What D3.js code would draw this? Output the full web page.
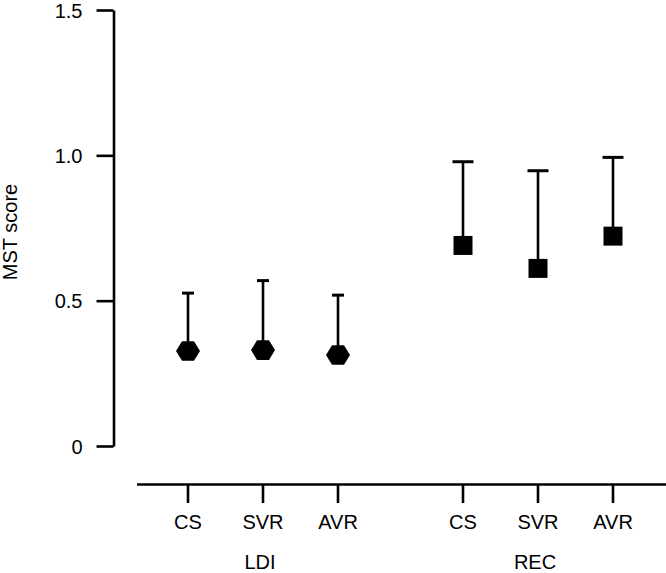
<!DOCTYPE html>
<html>
<head>
<meta charset="utf-8">
<script src="https://cdn.jsdelivr.net/npm/d3@7"></script>
<style>
  html, body { margin: 0; padding: 0; background: #fff; }
  text { font-family: "Liberation Sans", Arial, sans-serif; fill: #000; }
</style>
</head>
<body>
<svg id="chart" width="666" height="573"></svg>
<script>
const groups = ["LDI", "REC"];
const conditions = ["CS", "SVR", "AVR"];
const ldiMean = [0.327, 0.330, 0.313];
const ldiUpper = [0.526, 0.569, 0.519];
const recMean = [0.690, 0.611, 0.722];
const recUpper = [0.978, 0.947, 0.993];
const yTicks = [0, 0.5, 1.0, 1.5];
const yTickLabels = ["0", "0.5", "1.0", "1.5"];
const yTitle = "MST score";

const data = [];
conditions.forEach((c, i) => data.push({ group: "LDI", cond: c, mean: ldiMean[i], upper: ldiUpper[i] }));
conditions.forEach((c, i) => data.push({ group: "REC", cond: c, mean: recMean[i], upper: recUpper[i] }));

const svg = d3.select("#chart");
const y = d3.scaleLinear().domain([0, 1.5]).range([446, 10]);
const xGroup = d3.scalePoint().domain(groups).range([263, 538]);
const xInner = d3.scalePoint().domain(conditions).range([-75, 75]);
const xPos = d => xGroup(d.group) + xInner(d.cond);

const SW = 2.6;
const FS = 20;

// Y axis
const yAxisX = 113.5;
const yAxis = d3.axisLeft(y).tickValues(yTicks)
  .tickFormat((d, i) => yTickLabels[i]).tickSizeOuter(0).tickSizeInner(17).tickPadding(14);
const gy = svg.append("g").attr("transform", `translate(${yAxisX},0)`).call(yAxis);
gy.attr("font-size", FS);
gy.select(".domain").attr("stroke", "#000").attr("stroke-width", SW);
gy.selectAll(".tick line").attr("stroke", "#000").attr("stroke-width", SW);
gy.selectAll(".tick text").attr("font-size", FS).attr("dy", "0.36em")
  .style("font-family", '"Liberation Sans", Arial, sans-serif');

// X axis
const xAxisY = 484.5;
svg.append("line").attr("x1", 137).attr("x2", 666).attr("y1", xAxisY).attr("y2", xAxisY)
  .attr("stroke", "#000").attr("stroke-width", SW);
const xt = svg.append("g").selectAll("g").data(data).join("g")
  .attr("transform", d => `translate(${xPos(d)},${xAxisY})`);
xt.append("line").attr("y1", 0).attr("y2", 18.5).attr("stroke", "#000").attr("stroke-width", SW);
xt.append("text").attr("y", 44.8).attr("text-anchor", "middle").attr("font-size", FS).text(d => d.cond);

svg.append("g").selectAll("text").data(groups).join("text")
  .attr("x", d => xGroup(d) - 3).attr("y", xAxisY + 84.5)
  .attr("text-anchor", "middle").attr("font-size", FS).text(d => d);

// Y title
svg.append("text").attr("transform", `translate(17,232) rotate(-90)`)
  .attr("text-anchor", "middle").attr("font-size", 20).text(yTitle);

// Error bars (upper only)
const eb = svg.append("g").selectAll("g").data(data).join("g");
eb.append("line")
  .attr("x1", xPos).attr("x2", xPos)
  .attr("y1", d => y(d.mean)).attr("y2", d => y(d.upper))
  .attr("stroke", "#000").attr("stroke-width", SW);
eb.append("line")
  .attr("x1", d => xPos(d) - (d.group === "LDI" ? 6 : 10.5))
  .attr("x2", d => xPos(d) + (d.group === "LDI" ? 6 : 10.5))
  .attr("y1", d => y(d.upper)).attr("y2", d => y(d.upper))
  .attr("stroke", "#000").attr("stroke-width", 3);

// Markers
const hex = "M-12,0L-6,-9.8L6,-9.8L12,0L6,9.8L-6,9.8Z";
const sq = "M-9.5,-9.5L9.5,-9.5L9.5,9.5L-9.5,9.5Z";
svg.append("g").selectAll("path").data(data).join("path")
  .attr("transform", d => `translate(${xPos(d)},${y(d.mean)})`)
  .attr("d", d => d.group === "LDI" ? hex : sq)
  .attr("fill", "#000");
</script>
</body>
</html>
